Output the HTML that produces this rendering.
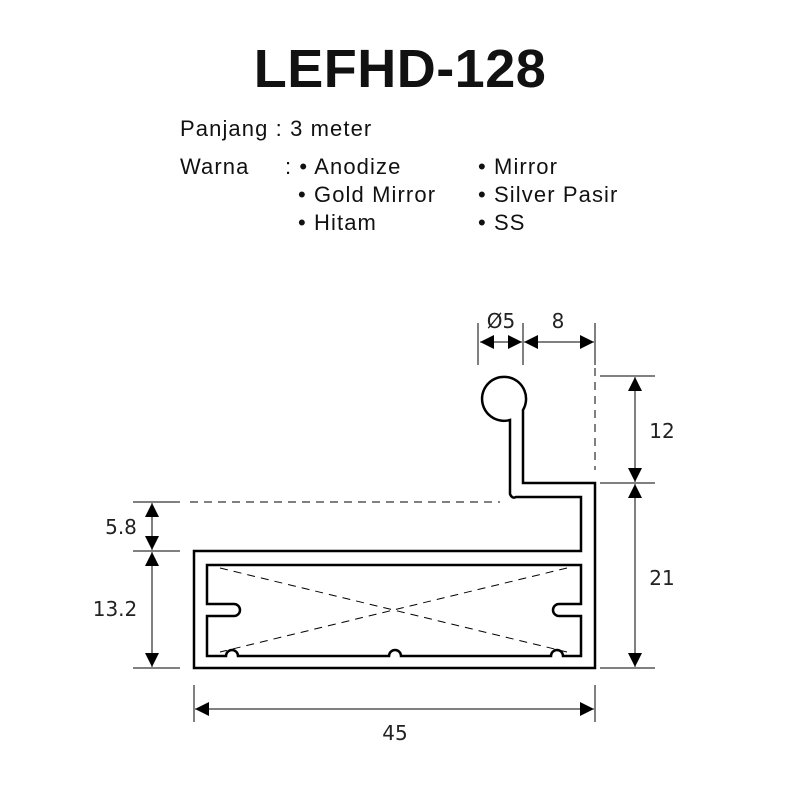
<!DOCTYPE html>
<html><head><meta charset="utf-8"><style>
body{margin:0;background:#fff;width:800px;height:800px;overflow:hidden}
svg{display:block}
</style></head><body>
<svg width="800" height="800" viewBox="0 0 800 800" xmlns="http://www.w3.org/2000/svg">
<defs>
<marker id="a" viewBox="0 0 10 10" refX="10" refY="5" markerWidth="14" markerHeight="14" markerUnits="userSpaceOnUse" orient="auto-start-reverse"><path d="M0,0 L10,5 L0,10 Z" fill="#000"/></marker>
</defs>
<g font-family="'Liberation Sans',sans-serif" fill="#111">
<text x="400" y="87" text-anchor="middle" font-size="54" font-weight="bold" letter-spacing="0.5">LEFHD-128</text>
<g font-size="22" letter-spacing="1.1">
<text x="180" y="136">Panjang : 3 meter</text>
<text x="180" y="174">Warna</text>
<text x="285" y="174">: • Anodize</text>
<text x="478" y="174">• Mirror</text>
<text x="298" y="202">• Gold Mirror</text>
<text x="478" y="202">• Silver Pasir</text>
<text x="298" y="230">• Hitam</text>
<text x="478" y="230">• SS</text>
</g>
</g>
<g fill="none" stroke="#000" stroke-width="2.5" stroke-linejoin="miter">
<path d="M194,551 L581,551 L581,497 L516,497 Q512,499 510,494 L510,420 A22,22 0 1 1 523,410 L523,483 L595,483 L595,668 L194,668 Z"/>
<path d="M207,565 L581,565 L581,604 L559,604 A6,6 0 0 0 559,616 L581,616 L581,656 L563,656 A6,6 0 0 0 551,656 L401,656 A6,6 0 0 0 389,656 L238,656 A6,6 0 0 0 226,656 L207,656 L207,616 L234,616 A6,6 0 0 0 234,604 L207,604 Z"/>
</g>
<g stroke="#000" stroke-width="1" fill="none" stroke-dasharray="8,6">
<line x1="220" y1="568" x2="567" y2="652"/>
<line x1="567" y1="568" x2="220" y2="652"/>
<line x1="190" y1="502" x2="500" y2="502"/>
<line x1="595" y1="368" x2="595" y2="470"/>
</g>
<g stroke="#000" stroke-width="1" fill="none">
<line x1="478" y1="323" x2="478" y2="365"/>
<line x1="523" y1="323" x2="523" y2="365"/>
<line x1="595" y1="323" x2="595" y2="365"/>
<line x1="480" y1="342" x2="522" y2="342" marker-start="url(#a)" marker-end="url(#a)"/>
<line x1="524" y1="342" x2="594" y2="342" marker-start="url(#a)" marker-end="url(#a)"/>
<line x1="600" y1="376" x2="655" y2="376"/>
<line x1="600" y1="483" x2="655" y2="483"/>
<line x1="600" y1="668" x2="655" y2="668"/>
<line x1="635" y1="377" x2="635" y2="482" marker-start="url(#a)" marker-end="url(#a)"/>
<line x1="635" y1="484" x2="635" y2="667" marker-start="url(#a)" marker-end="url(#a)"/>
<line x1="133" y1="502" x2="180" y2="502"/>
<line x1="133" y1="551" x2="180" y2="551"/>
<line x1="133" y1="668" x2="180" y2="668"/>
<line x1="152" y1="503" x2="152" y2="550" marker-start="url(#a)" marker-end="url(#a)"/>
<line x1="152" y1="552" x2="152" y2="667" marker-start="url(#a)" marker-end="url(#a)"/>
<line x1="194" y1="685" x2="194" y2="722"/>
<line x1="595" y1="685" x2="595" y2="722"/>
<line x1="195" y1="709" x2="594" y2="709" marker-start="url(#a)" marker-end="url(#a)"/>
</g>
<g font-family="'DejaVu Sans','Liberation Sans',sans-serif" font-size="20" fill="#222">
<text x="501" y="328" text-anchor="middle">Ø5</text>
<text x="558" y="328" text-anchor="middle">8</text>
<text x="662" y="438" text-anchor="middle">12</text>
<text x="662" y="585" text-anchor="middle">21</text>
<text x="121" y="534" text-anchor="middle">5.8</text>
<text x="115" y="616" text-anchor="middle">13.2</text>
<text x="395" y="740" text-anchor="middle">45</text>
</g>
</svg>
</body></html>
